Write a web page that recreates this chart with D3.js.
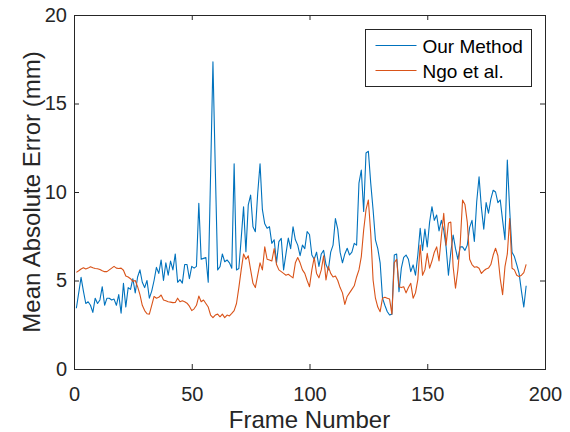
<!DOCTYPE html>
<html>
<head>
<meta charset="utf-8">
<script src="https://cdn.jsdelivr.net/npm/d3@7"></script>
<style>
  html, body { margin: 0; padding: 0; background: #fff; }
  svg { display: block; font-family: "Liberation Sans", Arial, Helvetica, sans-serif; }
</style>
</head>
<body>
<svg id="chart" width="570" height="432"></svg>
<script>
// Per-frame mean absolute error (mm), frames 1..192
const ourMethod = [
  3.43, 4.3, 5.18, 4.4, 3.7, 3.8, 3.6, 3.2, 4.0, 3.7,
  3.9, 4.65, 3.6, 4.0, 4.0, 3.9, 3.95, 3.6, 4.2, 3.15,
  4.84, 3.5, 4.6, 4.5, 5.1, 4.3, 5.2, 5.6, 4.9, 4.6,
  5.0, 4.0, 4.4, 5.0, 5.74, 5.4, 6.16, 5.0, 6.0, 5.3,
  6.1, 5.6, 6.5, 4.9, 5.05, 4.85, 5.9, 5.9, 5.1, 5.8,
  5.7, 5.8, 9.36, 6.2, 6.25, 6.3, 4.9, 11.0, 17.35, 11.3,
  5.6, 5.78, 6.5, 6.06, 6.16, 6.0, 5.69, 11.6, 5.59, 5.68,
  7.38, 9.17, 6.63, 9.27, 9.83, 8.04, 7.76, 9.92, 11.6, 9.0,
  8.2, 7.95, 8.04, 7.1, 7.3, 6.0, 7.2, 7.38, 5.6, 6.5,
  7.4, 6.8, 8.04, 7.3, 7.0, 6.4, 7.0, 6.8, 7.76, 7.6,
  6.44, 6.2, 6.6, 5.8, 6.5, 6.7, 5.9, 5.6, 6.6, 7.0,
  8.5, 7.9, 6.6, 6.0, 6.5, 6.82, 6.44, 6.6, 7.1, 7.0,
  10.5, 11.24, 8.9, 12.2, 12.3, 10.5, 9.0, 7.3, 6.8, 6.0,
  4.0, 3.6, 3.25, 3.05, 3.1, 6.44, 6.5, 4.37, 5.7, 6.3,
  6.44, 6.2, 5.5, 5.88, 5.3, 6.44, 7.95, 6.7, 7.9, 6.9,
  8.3, 9.17, 8.4, 8.7, 7.8, 8.4, 7.85, 6.9, 5.3, 6.6,
  7.57, 6.8, 6.2, 6.9, 6.9, 6.7, 7.0, 8.0, 8.4, 7.2,
  9.45, 10.86, 9.1, 7.9, 9.4, 8.8, 9.6, 10.1, 10.0, 9.4,
  9.55, 8.4, 7.3, 11.8, 9.0, 6.6, 6.35, 5.9, 5.4, 4.4,
  3.5, 4.7
];

const ngoEtAl = [
  5.46, 5.55, 5.65, 5.72, 5.65, 5.7, 5.78, 5.72, 5.68, 5.66,
  5.62, 5.55, 5.5, 5.5, 5.6, 5.7, 5.8, 5.7, 5.68, 5.7,
  5.58, 5.25, 5.2, 5.1, 4.95, 5.0, 4.65, 4.2, 3.6, 3.3,
  3.12, 3.1, 3.6, 4.1, 4.0, 4.05, 4.18, 3.9, 3.85, 3.8,
  3.78, 3.75, 3.76, 4.0, 3.8, 3.85, 3.8, 3.72, 3.55, 3.3,
  3.4, 3.6, 4.12, 3.8, 3.9, 3.7, 3.5, 3.05, 2.9, 3.05,
  3.1, 2.95, 3.1, 2.9, 3.05, 3.0, 3.14, 3.3, 3.7, 4.6,
  5.6, 6.5, 6.2, 6.4, 5.6, 4.84, 4.6, 5.3, 6.0, 5.6,
  6.9, 6.2, 6.16, 6.1, 6.8, 5.9, 5.6, 5.5, 5.4, 5.3,
  5.35, 5.25, 5.15, 6.0, 6.3, 6.0, 5.6, 5.4, 5.0, 4.65,
  5.6, 6.3, 5.4, 5.15, 5.6, 6.4, 5.03, 5.8, 5.4, 5.2,
  5.25, 5.0, 4.6, 4.3, 3.65, 4.1, 4.3, 4.5, 4.7, 5.2,
  5.6, 6.35, 7.85, 9.0, 9.55, 7.66, 5.03, 4.0, 3.5, 3.24,
  4.0, 4.05, 4.0, 3.95, 3.1, 6.0, 6.2, 4.65, 4.6, 4.65,
  4.3, 4.6, 4.84, 4.0, 4.3, 5.05, 7.0, 5.3, 5.6, 6.53,
  5.7, 6.1, 6.6, 6.9, 6.1, 7.5, 8.8, 7.0, 8.25, 8.3,
  5.78, 4.56, 5.6, 7.1, 9.55, 9.3, 8.3, 6.2, 5.9, 5.75,
  5.78, 5.69, 5.4, 5.55, 5.65, 5.7, 5.9, 6.44, 6.82, 6.4,
  5.1, 4.2, 5.78, 6.5, 8.5, 5.69, 5.6, 5.3, 5.22, 5.3,
  5.44, 5.91
];

const frames = d3.range(1, ourMethod.length + 1);
const seriesNames = ["Our Method", "Ngo et al."];
const seriesColors = ["#0072BD", "#D95319"];
const xTicks = [0, 50, 100, 150, 200];
const yTicks = [0, 5, 10, 15, 20];

const svg = d3.select("#chart");
const margin = { left: 74, right: 25, top: 15, bottom: 63 };
const W = 570, H = 432;
const innerW = W - margin.left - margin.right;
const innerH = H - margin.top - margin.bottom;

const x = d3.scaleLinear().domain([0, 200]).range([0, innerW]);
const y = d3.scaleLinear().domain([0, 20]).range([innerH, 0]);

const g = svg.append("g").attr("transform", `translate(${margin.left},${margin.top})`);

// data lines
const line = d3.line()
  .x((d, i) => x(frames[i]))
  .y(d => y(d));

[ourMethod, ngoEtAl].forEach((vals, k) => {
  g.append("path")
    .datum(vals)
    .attr("fill", "none")
    .attr("stroke", seriesColors[k])
    .attr("stroke-width", 1.1)
    .attr("stroke-linejoin", "round")
    .attr("d", line);
});

// axes with inward ticks (box style)
const axisColor = "#262626";
const tickLen = 5;
const styleAxis = sel => {
  sel.select(".domain").remove();
  sel.selectAll(".tick line").attr("stroke", axisColor);
  sel.selectAll(".tick text").attr("fill", axisColor).attr("font-size", 20);
};

g.append("g")
  .attr("transform", `translate(0,${innerH})`)
  .call(d3.axisBottom(x).tickValues(xTicks).tickSizeInner(-tickLen).tickSizeOuter(0).tickPadding(18))
  .call(styleAxis);

g.append("g")
  .call(d3.axisTop(x).tickValues(xTicks).tickSizeInner(-tickLen).tickSizeOuter(0).tickFormat(""))
  .call(styleAxis);

g.append("g")
  .call(d3.axisLeft(y).tickValues(yTicks).tickSizeInner(-tickLen).tickSizeOuter(0).tickPadding(7))
  .call(styleAxis);

g.append("g")
  .attr("transform", `translate(${innerW},0)`)
  .call(d3.axisRight(y).tickValues(yTicks).tickSizeInner(-tickLen).tickSizeOuter(0).tickFormat(""))
  .call(styleAxis);

// frame box
g.append("rect")
  .attr("x", 0.5).attr("y", 0.5)
  .attr("width", innerW).attr("height", innerH)
  .attr("fill", "none")
  .attr("stroke", axisColor)
  .attr("stroke-width", 1);

// axis titles
svg.append("text")
  .attr("x", margin.left + innerW / 2)
  .attr("y", 428)
  .attr("text-anchor", "middle")
  .attr("font-size", 24)
  .attr("fill", axisColor)
  .text("Frame Number");

svg.append("text")
  .attr("transform", `translate(40,${margin.top + innerH / 2}) rotate(-90)`)
  .attr("text-anchor", "middle")
  .attr("font-size", 24)
  .attr("fill", axisColor)
  .text("Mean Absolute Error (mm)");

// legend
const legend = svg.append("g").attr("transform", "translate(365.5,29.5)");
legend.append("rect")
  .attr("width", 166).attr("height", 57)
  .attr("fill", "#fff")
  .attr("stroke", axisColor)
  .attr("stroke-width", 1);

seriesNames.forEach((name, k) => {
  const cy = 16 + k * 25;
  legend.append("line")
    .attr("x1", 10).attr("x2", 51)
    .attr("y1", cy).attr("y2", cy)
    .attr("stroke", seriesColors[k])
    .attr("stroke-width", 1.1);
  legend.append("text")
    .attr("x", 57).attr("y", cy + 7)
    .attr("font-size", 19)
    .attr("fill", "#000")
    .text(name);
});
</script>
</body>
</html>
